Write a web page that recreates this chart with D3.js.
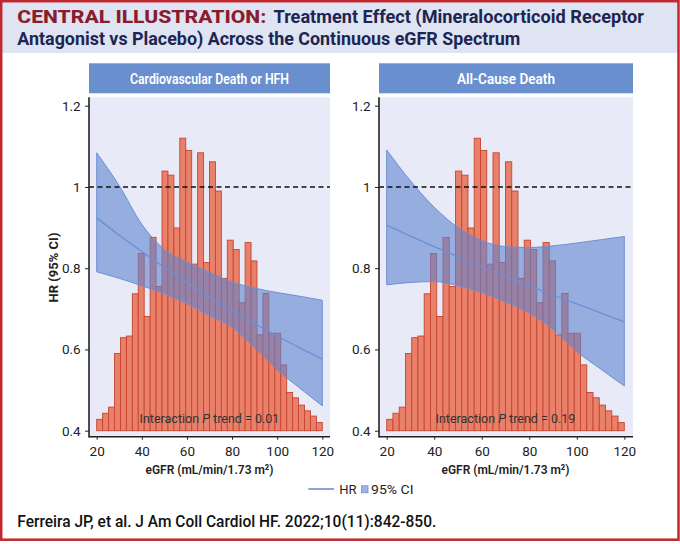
<!DOCTYPE html>
<html>
<head>
<meta charset="utf-8">
<script src="https://cdn.jsdelivr.net/npm/d3@7"></script>
<style>
  html, body { margin: 0; padding: 0; background: #ffffff; }
  svg { display: block; }
  text { font-family: Roboto, "Noto Sans", sans-serif; }
</style>
</head>
<body>
<svg id="chart" width="680" height="544"></svg>
<script>
// ---------------- DATA ----------------
const panelTitles = ["Cardiovascular Death or HFH", "All-Cause Death"];
const pTrendLabels = ["0.01", "0.19"];
const xTicks = [20, 40, 60, 80, 100, 120];
const yTicks = [0.4, 0.6, 0.8, 1, 1.2];
const yTickLabels = ["0.4", "0.6", "0.8", "1", "1.2"];

// eGFR grid where the curves were read
const eGFR = [20, 30, 40, 50, 60, 70, 80, 90, 100, 110, 120];

// Cardiovascular death or HFH
const cvHR    = [0.924, 0.881, 0.841, 0.802, 0.765, 0.730, 0.696, 0.664, 0.633, 0.604, 0.576];
const cvLower = [0.791, 0.775, 0.757, 0.737, 0.713, 0.683, 0.655, 0.604, 0.550, 0.505, 0.461];
const cvUpper = [1.084, 1.003, 0.908, 0.846, 0.815, 0.790, 0.766, 0.751, 0.740, 0.731, 0.721];

// All-cause death
const adHR    = [0.906, 0.879, 0.853, 0.828, 0.803, 0.780, 0.757, 0.734, 0.712, 0.690, 0.668];
const adLower = [0.759, 0.765, 0.767, 0.757, 0.740, 0.717, 0.690, 0.650, 0.595, 0.552, 0.510];
const adUpper = [1.091, 1.015, 0.950, 0.900, 0.868, 0.853, 0.851, 0.855, 0.862, 0.870, 0.878];

// eGFR distribution histogram (38 bins from 20 to 120), bar tops expressed on the HR axis
const histTop = [0.428, 0.443, 0.458, 0.590, 0.629, 0.633, 0.737, 0.836, 0.681, 0.876,
                 0.755, 1.039, 1.029, 0.899, 1.120, 1.090, 0.810, 1.084, 0.814, 1.062,
                 0.990, 0.775, 0.869, 0.846, 0.715, 0.863, 0.818, 0.636, 0.738, 0.640,
                 0.640, 0.562, 0.494, 0.481, 0.463, 0.449, 0.436, 0.420];
const histMin = 20, histMax = 120;

// ---------------- DRAW ----------------
const svg = d3.select("#chart");

// title band
svg.append("rect").attr("x", 2).attr("y", 2).attr("width", 676).attr("height", 51)
  .attr("fill", "#dfe4f2");
svg.append("text").attr("x", 17.3).attr("y", 23)
  .attr("font-size", 18).attr("font-weight", 800).attr("fill", "#8a1c2c")
  .attr("textLength", 249).attr("lengthAdjust", "spacingAndGlyphs")
  .text("CENTRAL ILLUSTRATION:");
svg.append("text").attr("x", 273.5).attr("y", 23)
  .attr("font-size", 18).attr("font-weight", 700).attr("fill", "#1d2552")
  .attr("textLength", 370.5).attr("lengthAdjust", "spacingAndGlyphs")
  .text("Treatment Effect (Mineralocorticoid Receptor");
svg.append("text").attr("x", 17.3).attr("y", 45)
  .attr("font-size", 18).attr("font-weight", 700).attr("fill", "#1d2552")
  .attr("textLength", 503).attr("lengthAdjust", "spacingAndGlyphs")
  .text("Antagonist vs Placebo) Across the Continuous eGFR Spectrum");

// frame
svg.append("rect").attr("x", 1.2).attr("y", 1.2).attr("width", 677.3).attr("height", 538.5)
  .attr("fill", "none").attr("stroke", "#c1272d").attr("stroke-width", 2.5);

const y = d3.scaleLinear().domain([0.4, 1.2]).range([430.7, 105.7]);

const panels = [
  { title: panelTitles[0], p: pTrendLabels[0], hr: cvHR, lo: cvLower, hi: cvUpper,
    bg: [89, 330], range: [96.7, 322.3], titleW: 159, yTitle: true },
  { title: panelTitles[1], p: pTrendLabels[1], hr: adHR, lo: adLower, hi: adUpper,
    bg: [379, 633], range: [386.7, 624.3], titleW: 98, yTitle: false }
];

const blue = "#6d8fd4";
const binW = (histMax - histMin) / histTop.length;

panels.forEach(pn => {
  const x = d3.scaleLinear().domain([20, 120]).range(pn.range);
  const g = svg.append("g");
  const bgTop = 97.3, bgBot = 436.7;

  // header
  g.append("rect").attr("x", pn.bg[0]).attr("y", 63.3)
    .attr("width", pn.bg[1] - pn.bg[0]).attr("height", 30).attr("fill", "#6a8fcf");
  g.append("text").attr("x", (pn.bg[0] + pn.bg[1]) / 2).attr("y", 79.3)
    .attr("text-anchor", "middle").attr("dominant-baseline", "central")
    .attr("font-size", 15).attr("font-weight", 600).attr("fill", "#ffffff")
    .attr("textLength", pn.titleW).attr("lengthAdjust", "spacingAndGlyphs")
    .text(pn.title);

  // plot background
  g.append("rect").attr("x", pn.bg[0]).attr("y", bgTop)
    .attr("width", pn.bg[1] - pn.bg[0]).attr("height", bgBot - bgTop).attr("fill", "#e8ebf7");

  // histogram
  g.append("g").selectAll("rect").data(histTop).join("rect")
    .attr("x", (d, i) => x(histMin + i * binW))
    .attr("width", (d, i) => x(histMin + (i + 1) * binW) - x(histMin + i * binW))
    .attr("y", d => y(d))
    .attr("height", d => y(0.4) - y(d))
    .attr("fill", "#e9806a").attr("stroke", "#c8442e").attr("stroke-width", 0.9);

  // CI band
  const pts = eGFR.map((e, i) => ({ e, lo: pn.lo[i], hi: pn.hi[i], hr: pn.hr[i] }));
  const area = d3.area().x(d => x(d.e)).y0(d => y(d.lo)).y1(d => y(d.hi))
    .curve(d3.curveMonotoneX);
  g.append("path").attr("d", area(pts))
    .attr("fill", "#5f83d0").attr("fill-opacity", 0.6)
    .attr("stroke", blue).attr("stroke-width", 1);
  const line = d3.line().x(d => x(d.e)).y(d => y(d.hr)).curve(d3.curveMonotoneX);
  g.append("path").attr("d", line(pts))
    .attr("fill", "none").attr("stroke", blue).attr("stroke-width", 1.3);

  // reference line HR = 1
  g.append("line").attr("x1", pn.bg[0]).attr("x2", pn.bg[1])
    .attr("y1", y(1)).attr("y2", y(1))
    .attr("stroke", "#111").attr("stroke-width", 1.4).attr("stroke-dasharray", "5,3.5");

  // interaction label, laid out as three pieces (italic P)
  const parts = ["Interaction ", "P", " trend = " + pn.p];
  const fs = 13.5;
  const nodes = parts.map((s, i) => g.append("text").attr("y", 422.7)
    .attr("font-size", fs).attr("fill", "#333")
    .attr("font-style", i === 1 ? "italic" : "normal")
    .attr("xml:space", "preserve").style("white-space", "pre").text(s));
  const widths = nodes.map(n => n.node().getComputedTextLength());
  const total = widths.reduce((a, b) => a + b, 0);
  const scale = 140 / total;
  let cx = (pn.range[0] + pn.range[1]) / 2 - 70;
  nodes.forEach((n, i) => {
    n.attr("font-size", fs * scale).attr("x", cx);
    cx += widths[i] * scale;
  });

  // axes
  const yAxis = d3.axisLeft(y).tickValues(yTicks)
    .tickFormat((d, i) => yTickLabels[i]).tickSize(4).tickSizeOuter(0);
  const ya = g.append("g").attr("transform", `translate(${pn.bg[0]},0)`).call(yAxis);
  ya.select(".domain").remove();
  ya.selectAll("text").attr("font-size", 13.5).attr("fill", "#222")
    .attr("font-family", "Roboto, sans-serif").attr("dx", "-0.1em");
  ya.selectAll("line").attr("stroke", "#222");

  const xAxis = d3.axisBottom(x).tickValues(xTicks).tickSize(3).tickSizeOuter(0);
  const xa = g.append("g").attr("transform", `translate(0,${bgBot})`).call(xAxis);
  xa.select(".domain").remove();
  xa.selectAll("text").attr("font-size", 13.5).attr("fill", "#222")
    .attr("font-family", "Roboto, sans-serif").attr("dy", "0.95em");
  xa.selectAll("line").attr("stroke", "#222");

  // axis lines (frame)
  g.append("line").attr("x1", pn.bg[0]).attr("x2", pn.bg[0]).attr("y1", bgTop).attr("y2", bgBot + 0.8)
    .attr("stroke", "#222").attr("stroke-width", 1.6);
  g.append("line").attr("x1", pn.bg[0]).attr("x2", pn.bg[1]).attr("y1", bgBot).attr("y2", bgBot)
    .attr("stroke", "#222").attr("stroke-width", 1.6);

  // x axis title
  g.append("text").attr("x", (pn.range[0] + pn.range[1]) / 2).attr("y", 473.5)
    .attr("text-anchor", "middle").attr("font-size", 13.5).attr("font-weight", 600).attr("fill", "#222")
    .attr("textLength", 128).attr("lengthAdjust", "spacingAndGlyphs")
    .text("eGFR (mL/min/1.73 m²)");

  if (pn.yTitle) {
    g.append("text").attr("transform", "translate(53.5,267.5) rotate(-90)")
      .attr("text-anchor", "middle").attr("dominant-baseline", "central")
      .attr("font-size", 13).attr("font-weight", 700).attr("fill", "#222")
      .attr("textLength", 70).attr("lengthAdjust", "spacingAndGlyphs")
      .text("HR (95% CI)");
  }
});

// legend
const lg = svg.append("g");
lg.append("line").attr("x1", 308.3).attr("x2", 334).attr("y1", 489).attr("y2", 489)
  .attr("stroke", blue).attr("stroke-width", 1.6);
lg.append("text").attr("x", 339.3).attr("y", 493.5)
  .attr("font-size", 13).attr("fill", "#222").text("HR");
lg.append("rect").attr("x", 361.5).attr("y", 485.8).attr("width", 6.5).attr("height", 7)
  .attr("fill", "#9fb3e4").attr("stroke", blue).attr("stroke-width", 0.8);
lg.append("text").attr("x", 371).attr("y", 493.5)
  .attr("font-size", 13).attr("fill", "#222")
  .attr("textLength", 42.5).attr("lengthAdjust", "spacingAndGlyphs").text("95% CI");

// footer
svg.append("text").attr("x", 17.3).attr("y", 527)
  .attr("font-size", 16.5).attr("font-weight", 500).attr("fill", "#111")
  .attr("textLength", 419).attr("lengthAdjust", "spacingAndGlyphs")
  .text("Ferreira JP, et al. J Am Coll Cardiol HF. 2022;10(11):842-850.");
</script>
</body>
</html>
